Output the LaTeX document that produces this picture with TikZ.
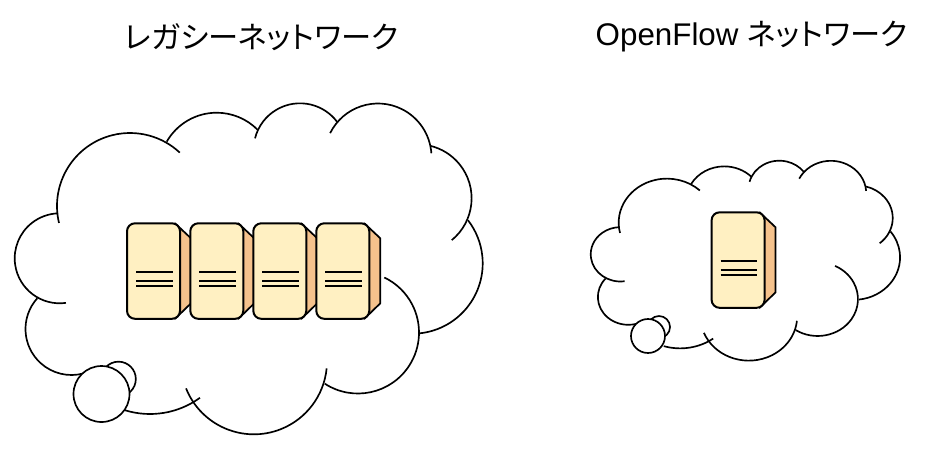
\documentclass[tikz,border=0pt]{standalone}
\usepackage{fontspec}
\setmainfont{Liberation Sans}
\newfontfamily\cjk[RawFeature=+palt]{Noto Sans CJK JP}
\definecolor{serverfront}{HTML}{FFF0C2}
\definecolor{serverside}{HTML}{F5C28C}
\newcommand{\lobe}[5]{\draw ({#1+#3*cos(#4)},{#2+#3*sin(#4)}) arc[start angle=#4,end angle=#5,radius=#3];}
\newcommand{\jp}{\fontsize{22.7pt}{28pt}\selectfont\cjk}
\tikzset{
  server/.pic={
    \draw [fill=serverside, line width=1.3pt, line join=round] (48,0) -- (64,15) -- (64,80) -- (48,95.5) -- cycle;
    \draw [fill=serverfront, line width=1.5pt, rounded corners=6pt] (0,0) rectangle (53,95.5);
    \draw [line width=1.5pt] (9,48.5) -- (45.5,48.5)
      (9,58) -- (45.5,58)
      (9,63) -- (45.5,63);
  },
  cloudlobes/.pic={
    \lobe{130}{206}{73}{166.6}{313}
    \lobe{59.7}{258.3}{45}{82}{268}
    \lobe{71.5}{329}{46}{222}{75}
    \lobe{150}{329}{85}{107}{54}
    \lobe{253.9}{361.2}{73.1}{158.2}{5.6}
    \lobe{358}{332.5}{61}{123}{-64.4}
    \lobe{412.3}{263.3}{70.4}{83.7}{-37.6}
    \lobe{417.6}{198.3}{54}{50.7}{-76.4}
    \lobe{378}{157}{53.5}{-153.5}{-4}
    \lobe{300}{149.7}{46.4}{-165.8}{-36.9}
    \lobe{216.7}{170.3}{57.6}{-150.2}{-44.8}
  }
}
\begin{document}
\begin{tikzpicture}[x=0.75pt, y=-0.75pt, line width=1.25pt,
    title/.style={font=\fontsize{23.5pt}{28pt}\selectfont, inner sep=0pt},
    bubble/.style={draw, shape=circle, fill=white, inner sep=0pt}]
\useasboundingbox (0,0) rectangle (935,458);
\node [title] (legacy) at (261.5,37.5) {\jp レガシーネットワーク};
\node [title] (openflow) at (751.5,37) {OpenFlow {\jp ネットワーク}};
% legacy cloud
\pic at (0,0) {cloudlobes};
\node [bubble, minimum size=26pt] (small1) at (118.5,379) {};
\node [bubble, minimum size=42pt] (big1) at (101.5,394) {};
\pic at (127,223.3) {server};
\pic at (190.3,223.3) {server};
\pic at (253.3,223.3) {server};
\pic at (316.3,223.3) {server};
% openflow cloud
\begin{scope}[shift={(581,98.3)}, xscale=0.661, yscale=0.604]
\pic [transform shape] at (0,0) {cloudlobes};
\end{scope}
\node [bubble, minimum size=16.5pt] (small2) at (659,327) {};
\node [bubble, minimum size=25.5pt] (big2) at (648,336) {};
\pic at (711.6,212.3) {server};
\end{tikzpicture}
\end{document}
